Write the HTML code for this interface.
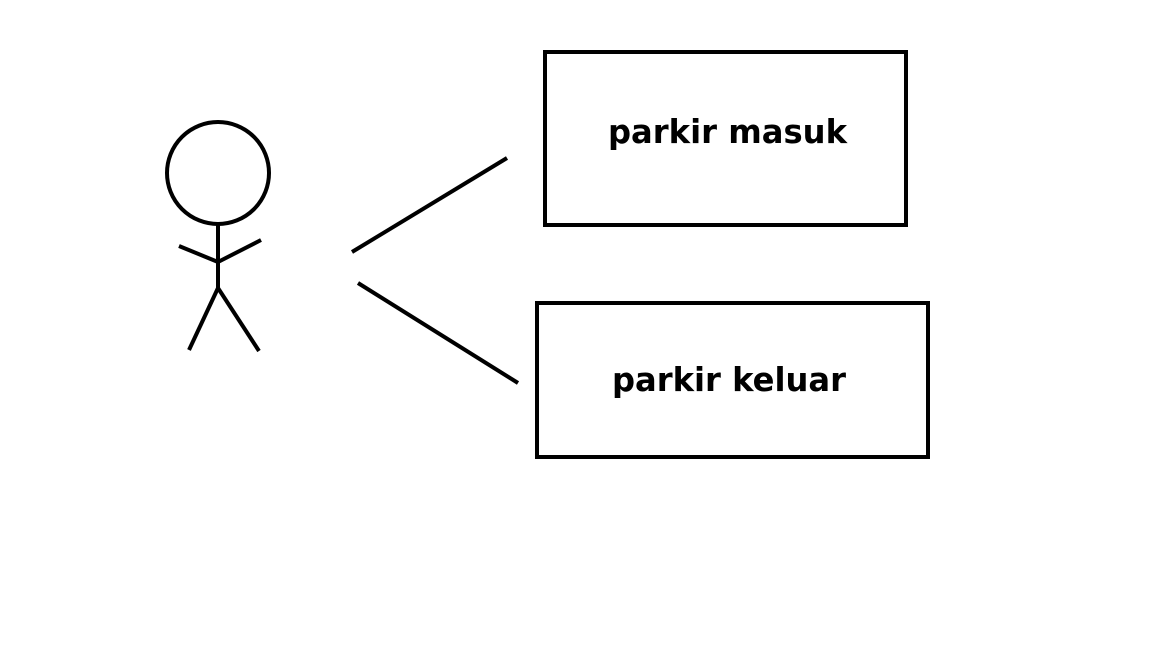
<!DOCTYPE html>
<html><head><style>
html,body{margin:0;padding:0;background:#fff;width:1152px;height:648px;overflow:hidden}
</style></head><body>
<svg width="1152" height="648" xmlns="http://www.w3.org/2000/svg">
<g stroke="#000" stroke-width="4" fill="none">
<circle cx="218" cy="173" r="51"/>
<line x1="218" y1="224" x2="218" y2="288"/>
<line x1="179" y1="246" x2="218" y2="262"/>
<line x1="218" y1="262" x2="261" y2="240"/>
<line x1="218" y1="288" x2="189" y2="350"/>
<line x1="218" y1="288" x2="259" y2="351"/>
<line x1="352" y1="252" x2="507" y2="158"/>
<line x1="358" y1="283" x2="518" y2="383"/>
<rect x="545" y="52" width="361" height="173"/>
<rect x="537" y="303" width="391" height="154"/>
</g>
<g font-family="'DejaVu Sans','Liberation Sans',sans-serif" font-weight="bold" font-size="33" fill="#000">
<text x="608" y="143" textLength="239" lengthAdjust="spacingAndGlyphs">parkir masuk</text>
<text x="612" y="391" textLength="234" lengthAdjust="spacingAndGlyphs">parkir keluar</text>
</g>
</svg>
</body></html>
